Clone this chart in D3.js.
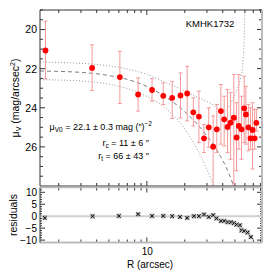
<!DOCTYPE html>
<html>
<head>
<meta charset="utf-8">
<script src="https://cdn.jsdelivr.net/npm/d3@7"></script>
<style>
  body { margin: 0; background: #fff; }
  svg { font-family: "Liberation Sans", Arial, sans-serif; }
</style>
</head>
<body>
<div id="chart"></div>
<script>
// surface brightness profile
var radius = [1.57, 3.68, 6.11, 8.53, 11.0, 13.5, 15.9, 18.5, 20.9, 23.4, 25.9, 28.4, 31.0, 33.6, 35.9,
    38.7, 41.1, 43.7, 46.2, 49.0, 51.5, 53.7, 56.4, 59.2, 61.1, 63.9, 66.5, 69.0, 71.7, 74.0];
var mu = [21.07, 21.96, 22.43, 23.32, 23.09, 23.39, 23.49, 23.37, 23.27, 24.23, 24.45, 25.56, 25.0, 25.99, 25.1,
    24.17, 24.59, 24.98, 24.76, 24.51, 25.52, 24.93, 25.1, 24.03, 24.34, 25.0, 25.56, 25.13, 25.56, 24.77];
var muHi = [19.57, 20.78, 21.11, 22.47, 22.51, 22.73, 22.65, 22.22, 21.88, 23.49, 23.15, 24.85, 24.0, 24.42, 23.83,
    22.81, 23.41, 23.07, 23.23, 22.3, 23.74, 22.3, 23.41, 22.39, 22.9, 23.83, 24.0, 23.74, 24.08, 24.08];
var muLo = [22.52, 23.12, 23.78, 24.17, 23.66, 23.83, 24.54, 24.52, 24.67, 24.93, 25.78, 26.29, 26.02, 28.15, 26.29,
    25.86, 25.95, 26.29, 26.63, 27.9, 27.22, 26.12, 26.63, 25.78, 25.86, 26.2, 26.12, 27.13, 26.12, 25.19];

// model and bounds
var fitR = [1.42, 2, 3, 5, 7, 10, 15, 20, 25, 30, 35, 40, 45, 50];
var fitMu = [22.12, 22.14, 22.19, 22.35, 22.55, 22.91, 23.56, 24.2, 24.82, 25.44, 26.05, 26.69, 27.39, 28.19];
var upR = [1.42, 2, 3, 4.2, 6, 7.7, 10, 14.3, 18.3, 25, 33.6, 37.9, 40.8, 43.9, 47.3, 50.8, 53.2, 55.7, 57.8, 59.2, 59.9];
var upMu = [21.66, 21.68, 21.73, 21.8, 21.93, 22.08, 22.3, 22.72, 23.02, 23.45, 23.86, 24.11, 24.2, 24.01, 23.65,
    23.24, 22.89, 22.43, 21.71, 20.53, 19.0];
var loR = [1.42, 2, 3, 4.2, 6, 7.7, 10, 13, 16, 18.3, 21.3, 25, 29, 33.6, 36];
var loMu = [22.56, 22.58, 22.63, 22.72, 22.9, 23.1, 23.42, 23.85, 24.35, 24.75, 25.35, 26.1, 26.95, 27.95, 28.6];

// residuals
var resR = [1.55, 3.71, 6.0, 8.53, 11.0, 13.5, 15.9, 18.3, 20.9, 23.6, 25.9, 28.4, 31.0, 33.6, 35.7,
    38.7, 41.1, 43.7, 46.4, 49.0, 51.5, 54.7, 56.4, 59.2, 63.0, 66.9];
var resVal = [-0.7, 0, 0.1, 0.8, 0.1, 0.1, 0, -0.3, -0.7, 0, 0, 0.7, -0.3, 0.4, -0.9,
    -2.0, -2.0, -2.5, -2.5, -2.9, -3.5, -3.8, -5.9, -6.2, -6.8, -8.7];

var muTicks = [20, 22, 24, 26];
var resTicks = [-10, -5, 0, 5, 10];
var xTicks = [10];

var W = 270, H = 270;
var L = 40, R = 262, T = 10, B = 186, RT = 187.5, RB = 242.5;

var svg = d3.select('#chart').append('svg')
    .attr('width', W).attr('height', H);

var x = d3.scaleLog().domain([1.42, 82]).range([L, R]);
var y = d3.scaleLinear().domain([19, 28]).range([T, B]);
var yr = d3.scaleLinear().domain([-11, 12]).range([RB, RT]);

svg.append('clipPath').attr('id', 'clipMain')
    .append('rect').attr('x', L).attr('y', T).attr('width', R - L).attr('height', B - T);

var minorX = [2, 3, 4, 5, 6, 7, 8, 9, 20, 30, 40, 50, 60, 70, 80];
var muMinor = d3.range(19, 28.01, 0.5).filter(function (v) { return v % 2 != 0; });
var resMinor = d3.range(-11, 12.01, 1).filter(function (v) { return v % 5 != 0; });

function ticks(g, scale, vals, len, orient, pos) {
    vals.forEach(function (v) {
        var p = scale(v);
        if (orient == 'h')
            g.append('line').attr('x1', p).attr('x2', p).attr('y1', pos).attr('y2', pos + len);
        else
            g.append('line').attr('y1', p).attr('y2', p).attr('x1', pos).attr('x2', pos + len);
    });
}

var tk = svg.append('g').attr('stroke', '#000').attr('stroke-width', 0.8);
// main panel ticks
ticks(tk, x, minorX, 3, 'h', T);
ticks(tk, x, xTicks, 5, 'h', T);
ticks(tk, x, minorX, -3, 'h', B);
ticks(tk, x, xTicks, -5, 'h', B);
ticks(tk, y, muMinor, 3, 'v', L);
ticks(tk, y, muTicks, 5, 'v', L);
ticks(tk, y, muMinor, -3, 'v', R);
ticks(tk, y, muTicks, -5, 'v', R);
// residual panel ticks
ticks(tk, x, minorX, 3, 'h', RT);
ticks(tk, x, xTicks, 5, 'h', RT);
ticks(tk, x, minorX, -3, 'h', RB);
ticks(tk, x, xTicks, -5, 'h', RB);
ticks(tk, yr, resMinor, 2, 'v', L);
ticks(tk, yr, resTicks, 5, 'v', L);
ticks(tk, yr, resMinor, -2, 'v', R);
ticks(tk, yr, resTicks, -5, 'v', R);

// tick labels through axes
var yAxis = d3.axisLeft(y).tickValues(muTicks).tickSize(0).tickPadding(3);
svg.append('g').attr('transform', 'translate(' + L + ',0)').call(yAxis)
    .call(function (g) { g.select('.domain').remove(); })
    .selectAll('text').attr('font-size', 10.5).attr('font-family', '"Liberation Sans", Arial, sans-serif');

var rAxis = d3.axisLeft(yr).tickValues(resTicks).tickSize(0).tickPadding(3);
svg.append('g').attr('transform', 'translate(' + L + ',0)').call(rAxis)
    .call(function (g) { g.select('.domain').remove(); })
    .selectAll('text').attr('font-size', 10).attr('font-family', '"Liberation Sans", Arial, sans-serif');

var xAxis = d3.axisBottom(x).tickValues(xTicks).tickFormat(d3.format('d')).tickSize(0).tickPadding(5);
svg.append('g').attr('transform', 'translate(0,' + RB + ')').call(xAxis)
    .call(function (g) { g.select('.domain').remove(); })
    .selectAll('text').attr('font-size', 10).attr('font-family', '"Liberation Sans", Arial, sans-serif');

// curves
var plot = svg.append('g').attr('clip-path', 'url(#clipMain)');
function curve(rs, ms, dash, color) {
    var pts = rs.map(function (r, i) { return [r, ms[i]]; });
    plot.append('path')
        .attr('d', d3.line()
            .x(function (d) { return x(d[0]); })
            .y(function (d) { return y(d[1]); })
            .curve(d3.curveMonotoneX)(pts))
        .attr('fill', 'none')
        .attr('stroke', color)
        .attr('stroke-width', 0.9)
        .attr('stroke-dasharray', dash);
}
curve(upR, upMu, '1,2', '#8c8c8c');
curve(loR, loMu, '1,2', '#8c8c8c');
curve(fitR, fitMu, '4,3', '#6e6e6e');

// error bars
var eb = plot.append('g').attr('stroke', '#f49a9a').attr('stroke-width', 1);
radius.forEach(function (r, i) {
    var px = x(r);
    eb.append('line').attr('x1', px).attr('x2', px).attr('y1', y(muHi[i])).attr('y2', y(muLo[i]));
    eb.append('line').attr('x1', px - 2).attr('x2', px + 2).attr('y1', y(muHi[i])).attr('y2', y(muHi[i]));
    eb.append('line').attr('x1', px - 2).attr('x2', px + 2).attr('y1', y(muLo[i])).attr('y2', y(muLo[i]));
});
plot.selectAll('circle.pt').data(radius).enter().append('circle')
    .attr('class', 'pt')
    .attr('cx', function (d) { return x(d); })
    .attr('cy', function (d, i) { return y(mu[i]); })
    .attr('r', 2.9)
    .attr('fill', '#ff0000');

// residual zero line and markers
svg.append('line').attr('x1', L).attr('x2', R).attr('y1', yr(0)).attr('y2', yr(0))
    .attr('stroke', '#cfcfcf').attr('stroke-width', 2);
var rm = svg.append('g');
resR.forEach(function (r, i) {
    var px = x(r), py = yr(resVal[i]);
    rm.append('rect').attr('x', px - 2.3).attr('y', py - 2.3).attr('width', 4.6).attr('height', 4.6)
        .attr('fill', '#b0b0b0');
    rm.append('path')
        .attr('d', 'M' + (px - 1.8) + ',' + (py - 1.8) + 'L' + (px + 1.8) + ',' + (py + 1.8) +
            'M' + (px - 1.8) + ',' + (py + 1.8) + 'L' + (px + 1.8) + ',' + (py - 1.8))
        .attr('stroke', '#111').attr('stroke-width', 1);
});

// frames
var fr = svg.append('g').attr('fill', 'none');
fr.append('path').attr('d', 'M' + L + ',' + B + 'V' + T + 'H' + R).attr('stroke', '#333').attr('stroke-width', 1);
fr.append('line').attr('x1', L).attr('x2', R).attr('y1', B).attr('y2', B).attr('stroke', '#333');
fr.append('line').attr('x1', R).attr('x2', R).attr('y1', T).attr('y2', RB).attr('stroke', '#bbb').attr('stroke-width', 2);
fr.append('line').attr('x1', L).attr('x2', R).attr('y1', RT).attr('y2', RT).attr('stroke', '#bbb').attr('stroke-width', 1.5);
fr.append('line').attr('x1', L).attr('x2', R).attr('y1', RB).attr('y2', RB).attr('stroke', '#bbb').attr('stroke-width', 2);
fr.append('line').attr('x1', L).attr('x2', L).attr('y1', RT).attr('y2', RB).attr('stroke', '#333');

// labels
svg.append('text').attr('x', 150).attr('y', 267.5).attr('text-anchor', 'middle')
    .attr('font-size', 10).text('R (arcsec)');
svg.append('text').attr('transform', 'translate(19,98) rotate(-90)').attr('text-anchor', 'middle')
    .attr('font-size', 10.5)
    .html('μ<tspan font-size="7" dy="2">V</tspan><tspan dy="-2"> (mag/arcsec</tspan><tspan font-size="7" dy="-4">2</tspan><tspan dy="4">)</tspan>');
svg.append('text').attr('transform', 'translate(16.5,215) rotate(-90)').attr('text-anchor', 'middle')
    .attr('font-size', 10.5).text('residuals');
svg.append('text').attr('x', 210).attr('y', 27).attr('text-anchor', 'middle')
    .attr('font-size', 9.5).text('KMHK1732');

var ann = svg.append('g').attr('font-size', 9).attr('text-anchor', 'end');
ann.append('text').attr('x', 152).attr('y', 130)
    .html('μ<tspan font-size="6.5" dy="2">V0</tspan><tspan dy="-2"> = 22.1 ± 0.3 mag (″)</tspan><tspan font-size="6.5" dy="-4">−2</tspan>');
ann.append('text').attr('x', 149).attr('y', 146)
    .html('r<tspan font-size="6.5" dy="2">c</tspan><tspan dy="-2"> = 11 ± 6 ″</tspan>');
ann.append('text').attr('x', 149).attr('y', 159)
    .html('r<tspan font-size="6.5" dy="2">t</tspan><tspan dy="-2"> = 66 ± 43 ″</tspan>');
</script>
</body>
</html>
